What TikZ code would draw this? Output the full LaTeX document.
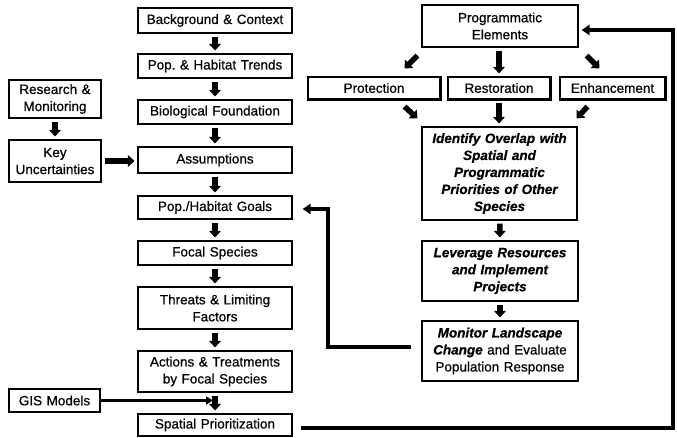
\documentclass[tikz,border=0pt]{standalone}
\usepackage{fontspec}
\setmainfont{Liberation Sans}[FakeBold=0.6]
\usetikzlibrary{arrows.meta}
\begin{document}
\begin{tikzpicture}[x=1pt,y=-1pt,
  box/.style={draw=black, line width=1.1pt, align=center, inner sep=1pt,
    font=\fontsize{13.5}{17}\selectfont},
  bi/.style={font=\fontsize{13.5}{17}\selectfont\bfseries\itshape},
  blk/.style={line width=5.5pt, -{Triangle[width=11.5pt,length=6.5pt]},
    shorten <=3pt, shorten >=3pt},
  fb/.style={line width=3.2pt, -{Triangle[width=10pt,length=8pt]}},
  gisarrow/.style={line width=3pt, -{Triangle[width=8pt,length=7pt]}},
  shadowline/.style={line width=2pt}
]
\useasboundingbox[fill=white] (0,0) rectangle (677,438);

% left column
\node[box, minimum width=154pt, minimum height=25pt, text width=150pt] (bg) at (215,20.5) {Background \& Context};
\node[box, minimum width=154pt, minimum height=24pt, text width=150pt] (trends) at (215,66) {Pop.\ \& Habitat Trends};
\node[box, minimum width=154pt, minimum height=24pt, text width=150pt] (bio) at (215,112) {Biological Foundation};
\node[box, minimum width=154pt, minimum height=26pt, text width=150pt] (assump) at (215,160) {Assumptions};
\node[box, minimum width=154pt, minimum height=23pt, text width=150pt] (goals) at (215,207.5) {Pop./Habitat Goals};
\node[box, minimum width=154pt, minimum height=24pt, text width=150pt] (focal) at (215,253) {Focal Species};
\node[box, minimum width=154pt, minimum height=42pt, text width=150pt] (threats) at (215,308) {Threats \& Limiting\\Factors};
\node[box, minimum width=154pt, minimum height=41pt, text width=150pt] (actions) at (215,371.5) {Actions \& Treatments\\by Focal Species};
\node[box, minimum width=154pt, minimum height=22pt, text width=150pt] (spatial) at (215,425) {Spatial Prioritization};

% far-left boxes
\node[box, minimum width=92pt, minimum height=38pt, text width=90pt] (research) at (55,99) {Research \&\\Monitoring};
\node[box, minimum width=92pt, minimum height=42pt, text width=90pt] (key) at (55,161) {Key\\Uncertainties};
\node[box, minimum width=91pt, minimum height=23pt, text width=89pt] (gis) at (54.5,400.5) {GIS Models};

% right column
\node[box, minimum width=156pt, minimum height=42pt, text width=152pt] (prog) at (500,26) {Programmatic\\Elements};
\node[box, minimum width=132pt, minimum height=22pt, text width=128pt] (prot) at (374,88) {Protection};
\node[box, minimum width=102pt, minimum height=22pt, text width=98pt] (rest) at (499,88) {Restoration};
\node[box, minimum width=105pt, minimum height=22pt, text width=101pt] (enh) at (612.5,88) {Enhancement};
\node[box, bi, minimum width=155pt, minimum height=93pt, text width=151pt] (ident) at (499.5,173.5) {Identify Overlap with\\Spatial and\\Programmatic\\Priorities of Other\\Species};
\node[box, bi, minimum width=156pt, minimum height=60pt, text width=152pt] (lev) at (500,271) {Leverage Resources\\and Implement\\Projects};
\node[box, minimum width=156pt, minimum height=60pt, text width=152pt] (mon) at (500,351) {{\bfseries\itshape Monitor Landscape}\\{\bfseries\itshape Change} and Evaluate\\Population Response};

% heavier lower/right edges of the three element boxes
\foreach \n in {prot,rest,enh}{
  \draw[shadowline] (\n.south west) -- (\n.south east) -- (\n.north east);
}

% left column block arrows
\draw[blk] (bg) -- (trends);
\draw[blk] (trends) -- (bio);
\draw[blk] (bio) -- (assump);
\draw[blk] (assump) -- (goals);
\draw[blk] (goals) -- (focal);
\draw[blk] (focal) -- (threats);
\draw[blk] (threats) -- (actions);
\draw[blk] (actions) -- (spatial);
\draw[blk] (research) -- (key);
\draw[blk] (key.east) -- (assump.west |- key.east);

% GIS arrow
\draw[gisarrow] (gis.east) -- ([xshift=-2pt]gis.east -| actions.south);

% right column block arrows
\draw[blk, shorten <=0pt, shorten >=0pt] ([xshift=-4pt,yshift=-8pt]prog.south west) -- ([xshift=-36pt,yshift=8pt]prot.north east);
\draw[blk] (prog.south -| rest.north) -- (rest.north);
\draw[blk, shorten <=0pt, shorten >=0pt] ([xshift=8pt,yshift=-8pt]prog.south east) -- ([xshift=40pt,yshift=8pt]enh.north west);
\draw[blk, shorten <=0pt, shorten >=0pt] ([xshift=-36pt,yshift=-7pt]prot.south east) -- ([xshift=-4pt,yshift=8pt]ident.north west);
\draw[blk] (rest.south) -- (rest.south |- ident.north);
\draw[blk, shorten <=0pt, shorten >=0pt] ([xshift=28pt,yshift=-7pt]enh.south west) -- ([xshift=-1pt,yshift=8pt]ident.north east);
\draw[blk] (ident) -- (lev);
\draw[blk] (lev) -- (mon);

% feedback loops
\coordinate (lc) at (328,209);
\coordinate (rc) at (673,30);
\draw[fb] ([xshift=-10pt,yshift=4pt]mon.west) -| (lc) -- ([xshift=10pt,yshift=-1.5pt]goals.east);
\draw[fb] ([xshift=8pt,yshift=-3pt]spatial.east) -| (rc) -- ([xshift=3pt,yshift=-4pt]prog.east);
\end{tikzpicture}
\end{document}
